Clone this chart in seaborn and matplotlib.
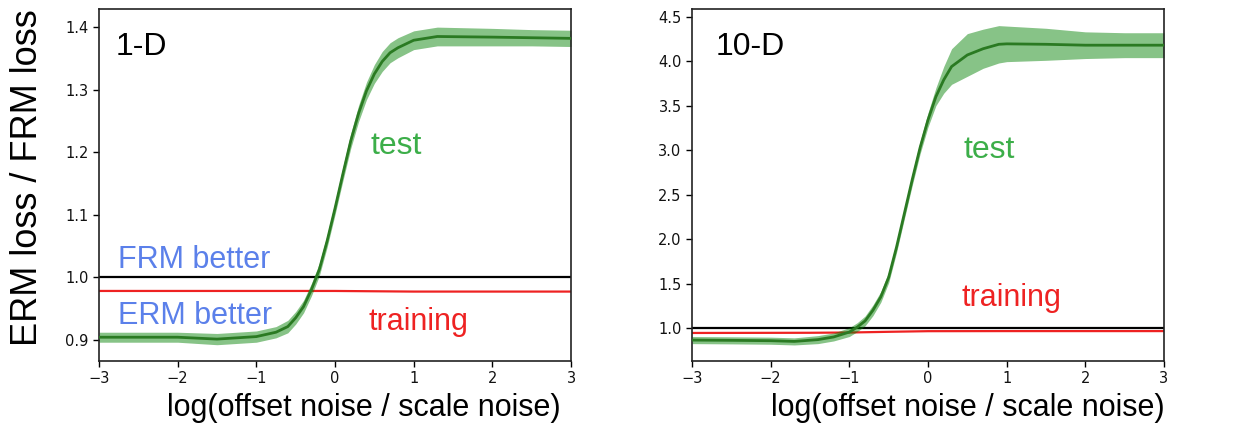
import numpy as np
import pandas as pd
import seaborn as sns
import matplotlib.pyplot as plt

# ---------- data ----------
# 1-D panel
x_1d = [-3.0, -2.5, -2.0, -1.5, -1.0, -0.75, -0.6, -0.5, -0.4, -0.3, -0.2, -0.1,
        0.0, 0.1, 0.2, 0.3, 0.4, 0.5, 0.6, 0.7, 0.8, 1.0, 1.3, 2.0, 2.5, 3.0]
test_1d = [0.904, 0.904, 0.904, 0.901, 0.905, 0.912, 0.921, 0.935, 0.953, 0.980, 1.012, 1.058,
           1.110, 1.165, 1.218, 1.262, 1.298, 1.325, 1.345, 1.359, 1.367, 1.379, 1.385, 1.384, 1.383, 1.382]
band_1d = [0.008, 0.008, 0.008, 0.009, 0.009, 0.009, 0.010, 0.010, 0.010, 0.010, 0.010, 0.010,
           0.010, 0.011, 0.012, 0.013, 0.014, 0.015, 0.016, 0.016, 0.016, 0.015, 0.015, 0.014, 0.013, 0.013]
train_x_1d = [-3.0, -1.0, 0.0, 1.0, 3.0]
train_1d = [0.978, 0.978, 0.978, 0.977, 0.977]

# 10-D panel
x_10d = [-3.0, -2.5, -2.0, -1.7, -1.4, -1.2, -1.0, -0.9, -0.8, -0.7, -0.6, -0.5, -0.4, -0.3,
         -0.2, -0.1, 0.0, 0.1, 0.2, 0.3, 0.5, 0.7, 0.9, 1.0, 1.5, 2.0, 2.5, 3.0]
test_10d = [0.865, 0.862, 0.858, 0.850, 0.870, 0.900, 0.955, 1.010, 1.080, 1.200, 1.350, 1.570, 1.910, 2.290,
            2.670, 3.030, 3.340, 3.600, 3.790, 3.940, 4.070, 4.140, 4.190, 4.195, 4.190, 4.180, 4.180, 4.180]
band_10d = [0.040, 0.040, 0.040, 0.040, 0.045, 0.045, 0.050, 0.050, 0.055, 0.060, 0.060, 0.060, 0.060, 0.060,
            0.065, 0.070, 0.080, 0.100, 0.150, 0.200, 0.240, 0.220, 0.210, 0.200, 0.180, 0.150, 0.140, 0.140]
train_x_10d = [-3.0, -1.5, -1.0, -0.5, 0.0, 1.0, 3.0]
train_10d = [0.945, 0.947, 0.950, 0.958, 0.965, 0.966, 0.966]

xticks = [-3, -2, -1, 0, 1, 2, 3]
yticks_1d = [0.9, 1.0, 1.1, 1.2, 1.3, 1.4]
yticks_10d = [1.0, 1.5, 2.0, 2.5, 3.0, 3.5, 4.0, 4.5]

# ---------- style ----------
sns.set_style("ticks")
plt.rcParams["font.family"] = ["DejaVu Sans"]
plt.rcParams["text.color"] = "black"
plt.rcParams["axes.labelcolor"] = "black"
plt.rcParams["xtick.color"] = "black"
plt.rcParams["ytick.color"] = "black"
plt.rcParams["xtick.labelcolor"] = "#111111"
plt.rcParams["ytick.labelcolor"] = "#111111"
big_font = "Liberation Sans"

line_green = "#2a7a22"
fill_green = "green"
blue = "#5b80ea"
red = "#ee2222"

fig = plt.figure(figsize=(12.5, 4.32), dpi=100)
ax1 = fig.add_axes([0.0792, 0.1644, 0.3776, 0.8148])
ax2 = fig.add_axes([0.5536, 0.1644, 0.3776, 0.8148])


def draw_panel(ax, x, test, band, tx, train, ylim, yticks, label, lx):
    df = pd.DataFrame({"x": x, "test": test, "band": band})
    tr = pd.DataFrame({"x": tx, "train": train})
    ax.fill_between(df["x"], df["test"] - df["band"], df["test"] + df["band"],
                    color=fill_green, alpha=0.47, linewidth=0, zorder=2)
    sns.lineplot(data=df, x="x", y="test", ax=ax, color=line_green, linewidth=2, zorder=3)
    ax.axhline(1.0, color="black", linewidth=1.6, zorder=1)
    sns.lineplot(data=tr, x="x", y="train", ax=ax, color=red, linewidth=1.6, zorder=1.5)
    ax.set_xlim(-3, 3)
    ax.set_ylim(*ylim)
    ax.set_xticks(xticks)
    ax.set_yticks(yticks)
    ax.set_ylabel("")
    ax.set_xlabel("")
    ax.tick_params(labelsize=10.5, length=4, width=1)
    for sp in ax.spines.values():
        sp.set_visible(True)
        sp.set_color("#222222")
        sp.set_linewidth(1.2)
    ax.text(lx, 0.935, label, transform=ax.transAxes, fontsize=23,
            family=big_font, va="top", ha="left", color="black")


draw_panel(ax1, x_1d, test_1d, band_1d, train_x_1d, train_1d,
           (0.866, 1.429), yticks_1d, "1-D", 0.036)
draw_panel(ax2, x_10d, test_10d, band_10d, train_x_10d, train_10d,
           (0.63, 4.587), yticks_10d, "10-D", 0.05)

ax1.set_yticklabels(["0.9", "1.0", "1.1", "1.2", "1.3", "1.4"])

# annotations
ax1.text(0.45, 1.21, "test", color="#3cae49", fontsize=23, family=big_font, va="center")
ax1.text(-2.76, 1.015, "FRM better", color=blue, fontsize=22, family=big_font, va="baseline")
ax1.text(-2.76, 0.925, "ERM better", color=blue, fontsize=22, family=big_font, va="baseline")
ax1.text(0.43, 0.916, "training", color=red, fontsize=22, family=big_font, va="baseline")

ax2.text(0.45, 3.0, "test", color="#3cae49", fontsize=23, family=big_font, va="center")
ax2.text(0.42, 1.25, "training", color=red, fontsize=22, family=big_font, va="baseline")

# axis labels
ax1.set_xlabel("log(offset noise / scale noise)", fontsize=22, family=big_font, color="black")
ax1.xaxis.set_label_coords(0.977, -0.09)
ax1.xaxis.label.set_ha("right")
ax1.xaxis.label.set_va("top")
ax2.set_xlabel("log(offset noise / scale noise)", fontsize=22, family=big_font, color="black")
ax2.xaxis.set_label_coords(1.002, -0.09)
ax2.xaxis.label.set_ha("right")
ax2.xaxis.label.set_va("top")

fig.text(0.022, 0.588, "ERM loss / FRM loss", rotation=90, fontsize=26,
         family=big_font, ha="center", va="center", color="black")

fig.savefig("out.png", dpi=100)
